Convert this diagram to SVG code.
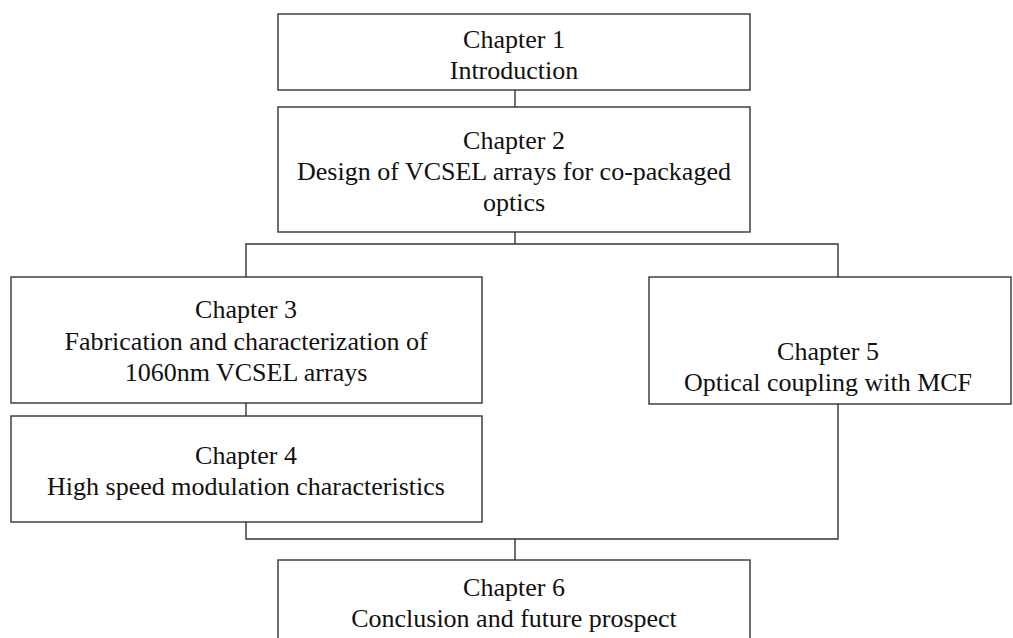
<svg xmlns="http://www.w3.org/2000/svg" width="1013" height="638" viewBox="0 0 1013 638">
<style>
.box{fill:#fff;stroke:#333;stroke-width:1.4}
.con{fill:none;stroke:#333;stroke-width:1.4}
text{font-family:"Liberation Serif","Times New Roman",serif;font-size:26px;fill:#111;text-anchor:middle}
</style>
<rect width="1013" height="638" fill="#fff"/>
<g id="connectors">
<line class="con" x1="515" y1="90" x2="515" y2="107"/>
<polyline class="con" points="515,232 515,244"/>
<polyline class="con" points="246,277 246,244 838,244 838,277"/>
<line class="con" x1="246" y1="403" x2="246" y2="416"/>
<polyline class="con" points="246,522 246,539 838,539 838,404"/>
<line class="con" x1="515" y1="539" x2="515" y2="560"/>
</g>
<g id="ch1">
<rect class="box" x="278" y="14" width="472" height="76"/>
<text x="514" y="48">Chapter 1</text>
<text x="514" y="79">Introduction</text>
</g>
<g id="ch2">
<rect class="box" x="278" y="107" width="472" height="125"/>
<text x="514" y="149">Chapter 2</text>
<text x="514" y="180">Design of VCSEL arrays for co-packaged</text>
<text x="514" y="211">optics</text>
</g>
<g id="ch3">
<rect class="box" x="11" y="277" width="471" height="126"/>
<text x="246" y="318">Chapter 3</text>
<text x="246" y="350">Fabrication and characterization of</text>
<text x="246" y="381">1060nm VCSEL arrays</text>
</g>
<g id="ch4">
<rect class="box" x="11" y="416" width="471" height="106"/>
<text x="246" y="464">Chapter 4</text>
<text x="246" y="495">High speed modulation characteristics</text>
</g>
<g id="ch5">
<rect class="box" x="649" y="277" width="362" height="127"/>
<text x="828" y="360">Chapter 5</text>
<text x="828" y="391">Optical coupling with MCF</text>
</g>
<g id="ch6">
<rect class="box" x="278" y="560" width="472" height="100"/>
<text x="514" y="596">Chapter 6</text>
<text x="514" y="627">Conclusion and future prospect</text>
</g>
</svg>
